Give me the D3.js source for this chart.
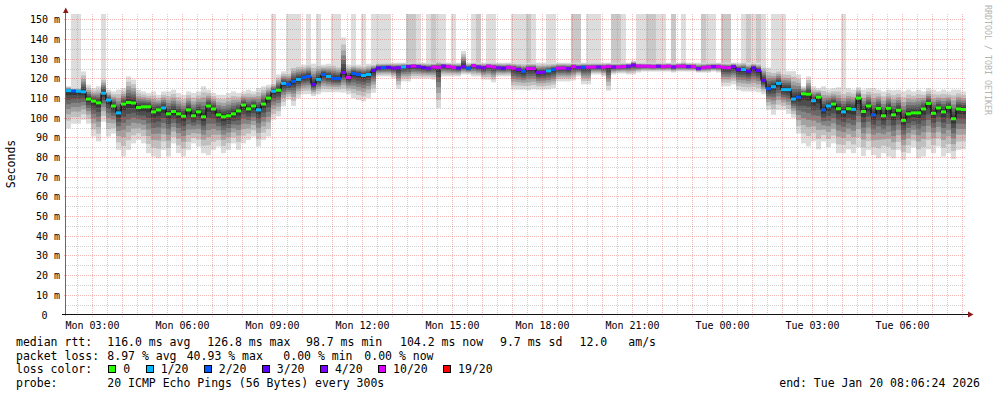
<!DOCTYPE html>
<html><head><meta charset="utf-8">
<script src="https://cdn.jsdelivr.net/npm/d3@7"></script>
<style>
body{margin:0;background:#fff}
svg{display:block}
text{font-family:"DejaVu Sans Mono",monospace;fill:#000}
</style>
</head><body><svg id="c" width="997" height="397"></svg>
<script>
// ---- data (10-minute columns, 30 h ending Tue Jan 20 08:06:24 2026) ----
const med=[113.8,113.6,113.5,113.2,109.5,108.5,107.6,112.5,109,106,
102.5,107,107.8,107.5,105.2,105.6,105.6,103,104,105,
102,103.2,102,100.8,104,101,103,100.5,106,104.5,
101.5,100.5,101,102,103.5,106.5,104.5,106,104,107,
110,113.5,114,117.5,117,
118.5,119.5,120.5,121,117,119.5,122,121,120,120,
123,120.5,122.5,122,121.5,122,124,
125.3,125.5,125.6,125.2,125.4,125.8,126,126.3,126,125.5,
125.2,125.8,125.6,126.3,126,125.6,125.3,126,125.2,126.5,
125.8,125.4,126.2,125.8,125.4,125.2,125.6,125.2,124.5,
123.6,125,125,123,123.2,123.8,124.5,125.2,125.3,125,
126,125.5,125.7,125.7,125.8,125.8,125.7,126,125.8,125.8,
126,126.2,126.8,126.3,126.2,126.2,126,126.2,126,126.2,
125.8,126.2,126.2,126,126,125,125.5,125.8,126,126,
125.6,125.4,126,124.5,
124.5,123.6,125.3,124,119,114.8,115.8,117.5,114.3,114.3,
109.5,110.5,112.2,112,108.7,110.5,104,106,107,104.6,
103,104.6,104.3,110,103.2,106,101.5,104.8,101,104.8,
101.5,103.8,98.7,102,102.5,102.5,104.5,107.3,102.3,105,
103,105.3,99.5,104.5,104.2];
const loss=[1,2,1,1,0,0,0,1,1,0, 1,0,0,0,0,0,0,0,0,1, 0,0,0,0,0,0,0,0,0,0, 0,0,0,0,0,0,0,0,1,0, 0,1,0,1,2,
2,1,2,2,3,1,2,1,2,2,4,5,2,2,1,1,3,
3,2,3,4,4,1,4,5,4,3, 4,5,5,4,5,5,3,4,2,5, 4,4,5,5,4,3,5,5,4,
2,5,5,4,4,1,2,5,5,4, 5,4,2,5,5,4,5,5,4,5, 5,4,4,5,5,5,5,4,5,5, 4,5,5,4,5,4,5,5,4,5, 5,5,4,3,
1,3,3,3,3,2,1,1,1,1, 1,2,0,0,1,0,2,1,0,0, 1,0,1,0,0,0,2,0,0,0, 0,0,0,0,0,0,0,0,0,0, 0,0,0,0,0];
const lo=[94.7,97,97,99,97,90.5,88,98,90.5,92, 83.7,80.3,83.7,87,88.8,87,82,80.3,79.4,83.7,
80.3,87,82,80.3,83.7,87,85.4,82,81,83.7, 85.4,82,83.7,87,83.7,87,88.8,90.5,85.4,88.8,
90.5,99,100.7,105.8,109.2,
106,110,112,112,111,112,113,113,113,113,112.8,112,110,109,108.3,110,112.7,
121,121,121,120.2,114.6,118.5,118.5,120,120,120, 120,119.4,105,121,121,121,121,122,122,121,
121,119.4,119.4,118,121,121,121,114.3,114.3,
114.3,114,114.5,114.3,114.3,114.5,115,118.5,118.5,118.5, 119,121,117,117,122,122,121,113.8,122,122.5,
122.5,122,122,123,123.5,123.5,123.5,123.5,123.5,123.5, 123,123.5,123.5,123.5,123.5,123,123,123,123.5,123,
116,116,117,114,
113.4,113.4,113.4,113,112,104,101.5,104,104,102, 100,92,87,85.4,88,84,88,85,87,82,
82,84,82,85,80.5,83.7,81,79.4,82,80.3, 79.4,83.7,78.6,82,85,79.4,80.3,84,82,85.4,
80.3,82,79,83.7,84];
const hi=[116,115,115,123.6,116.8,115.1,116,121,114.3,113.4, 114.3,115.1,121,119.4,114.3,113.4,112.6,113.4,111.7,113.4,
113.4,114.3,112.6,111.7,113.4,112.6,113.4,116,114.3,112.6, 111.7,111.7,112.6,113.4,112.6,113.4,114.3,113.4,115.1,116,
116.8,118,122,123.6,123.6,
127,127.5,127,128,127.5,128,127,127.5,128,127,140.8,127,127.5,127,127,127.5,127.5,
128,128,128,128,128,128,128,128,128,128, 128,128,128.7,128,128,128,128,134,128,128,
128,128,128,128,128,128,128,128,128,
128,128,128,128,128,128,128,128,128,128, 128,128,128,128,128,128,128,128,128,128,
128,128,129,128,128,128,128,128,128,128, 128,128,128.5,128,128,128,128,128,128,128,
128,128,128,128,
128.6,128,128,128,127,125.5,124.5,125,124,123.7, 123.7,122,116,121,116,115,116,114.5,115,115.5,
114.3,115,114.3,115.5,114.3,115,115.1,114.3,113.4,114.3, 114,114.3,113.4,114.3,113.4,114.3,113.4,115,114.3,113.4,
114.3,113.4,114.3,114.3,113.4];
const cap=[0,1,1,0,0,0,0,1,0,0, 0,0,0,0,0,0,0,0,0,0, 0,0,0,0,0,0,0,0,0,0, 0,0,0,0,0,0,0,0,0,0, 0,1,0,0,1,
1,1,0,1,0,1,0,0,1,1,0,0,1,0,1,0,1,
1,1,1,0,0,0,2,2,1,0, 1,2,1,1,0,1,0,0,0,1, 2,0,1,1,0,0,0,1,1,
1,2,1,0,0,1,1,0,0,0, 2,2,0,1,1,1,0,0,2,2, 1,0,0,1,1,2,2,1,1,0, 2,0,1,0,0,0,2,1,1,0, 2,2,0,0,
1,2,1,2,1,0,1,1,1,0, 0,0,0,0,0,0,0,0,0,0, 1,0,0,0,0,0,0,0,0,0, 0,0,0,0,0,0,0,0,0,0, 0,0,0,0,0];

const lossLabels=['0','1/20','2/20','3/20','4/20','10/20','19/20'];
const lossColors=['#26ff00','#00b8ff','#0059ff','#5e00ff','#7e00ff','#dd00ff','#ff0000'];
const yTickValues=[0,10,20,30,40,50,60,70,80,90,100,110,120,130,140,150];
const endLabel='2026-01-20 08:06:24';
const rttStats=[['median rtt:',16],['116.0 ms avg',107.3],['126.8 ms max',207.3],['98.7 ms min',306],['104.2 ms now',400],['9.7 ms sd',500],['12.0',579.5],['am/s',628.3]];
const lossStats=[['packet loss:',16],['8.97 % avg',107.3],['40.93 % max',186.7],['0.00 % min',283.3],['0.00 % now',364.3]];
const probeText='20 ICMP Echo Pings (56 Bytes) every 300s';
const endText='end: Tue Jan 20 08:06:24 2026';

// ---- drawing ----
const svg=d3.select('#c');
const tEnd=d3.utcParse('%Y-%m-%d %H:%M:%S')(endLabel);
const tStart=d3.utcHour.offset(tEnd,-30);
const x=d3.scaleUtc().domain([tStart,tEnd]).range([65.7,965.7]);
const y=d3.scaleLinear().domain([0,152.5]).range([314.5,14.5]);
const TOP=14, L=66, R=966, B=314.5;

const cols=med.map((m,i)=>{
  const x0=Math.round(x(d3.utcMinute.offset(tStart,i*10)));
  const x1=Math.round(x(d3.utcMinute.offset(tStart,(i+1)*10)));
  return {i,m,x0,x1,loss:loss[i],lo:lo[i],hi:hi[i],cap:cap[i]};
});

const g=svg.append('g');
// loss caps
g.selectAll('rect.cap').data(cols.filter(d=>d.cap>0)).join('rect')
  .attr('x',d=>d.x0).attr('width',d=>d.x1-d.x0)
  .attr('y',TOP).attr('height',d=>y(d.m)-TOP)
  .attr('fill',d=>d.cap===1?'#dddddd':'#c8c8c8');
// smoke bands
const fracs=[1,0.8,0.63,0.49,0.36,0.24,0.12];
const shades=['#dcdcdc','#c0c0c0','#a2a2a2','#848484','#686868','#4e4e4e','#363636'];
fracs.forEach((f,k)=>{
  g.append('g').selectAll('rect').data(cols).join('rect')
    .attr('x',d=>d.x0).attr('width',d=>d.x1-d.x0)
    .attr('y',d=>y(d.m+f*(d.hi-d.m)))
    .attr('height',d=>y(d.m-f*(d.m-d.lo))-y(d.m+f*(d.hi-d.m)))
    .attr('fill',shades[k]);
});

// grid
const grid=svg.append('g');
const minorC='rgba(140,140,140,0.4)', majorC='rgba(225,80,80,0.4)';
d3.range(5,151,10).forEach(v=>{
  grid.append('line').attr('x1',L).attr('x2',R).attr('y1',Math.round(y(v))+0.5).attr('y2',Math.round(y(v))+0.5)
    .attr('stroke',minorC).attr('stroke-dasharray','1,1');
});
yTickValues.filter(v=>v>0).forEach(v=>{
  grid.append('line').attr('x1',64).attr('x2',R).attr('y1',Math.round(y(v))+0.5).attr('y2',Math.round(y(v))+0.5)
    .attr('stroke',majorC).attr('stroke-dasharray','1,1');
});
d3.utcMinute.every(30).range(tStart,tEnd).forEach(t=>{
  const major=t.getUTCMinutes()===0;
  const xx=Math.floor(x(t))+0.5;
  grid.append('line').attr('x1',xx).attr('x2',xx).attr('y1',TOP).attr('y2',major?B+3:B+2)
    .attr('stroke',major?majorC:minorC).attr('stroke-dasharray','1,1');
});

// median line
const pts=cols.map(d=>[d.x0,y(d.m)]);
pts.push([cols[cols.length-1].x1,y(cols[cols.length-1].m)]);
svg.append('path').attr('d',d3.line().curve(d3.curveStepAfter)(pts))
  .attr('fill','none').attr('stroke','#000').attr('stroke-width',1);
svg.append('g').selectAll('rect').data(cols).join('rect')
  .attr('x',d=>d.x0).attr('width',d=>d.x1-d.x0)
  .attr('y',d=>y(d.m)-1.5).attr('height',3)
  .attr('fill',d=>lossColors[d.loss]);

// axes
svg.append('line').attr('x1',65.5).attr('x2',65.5).attr('y1',B+1).attr('y2',11).attr('stroke','#6a6a6a');
svg.append('line').attr('x1',62).attr('x2',969).attr('y1',B).attr('y2',B).attr('stroke','#111');
svg.append('path').attr('d','M63,13L68.5,13L65.75,7.5Z').attr('fill','#8b1a1a');
svg.append('path').attr('d','M968,311.5L968,317.5L973.5,314.5Z').attr('fill','#8b1a1a');

// y labels
svg.append('g').selectAll('text').data(yTickValues).join('text')
  .attr('x',d=>d===0?47.5:60).attr('y',d=>y(d)+4)
  .attr('text-anchor','end').attr('font-size','10px')
  .text(d=>d===0?'0':d+' m');
// x labels
const fmt=d3.utcFormat('%a %H:%M');
svg.append('g').selectAll('text').data(d3.utcHour.every(3).range(tStart,tEnd)).join('text')
  .attr('x',d=>x(d)).attr('y',329).attr('text-anchor','middle').attr('font-size','10px')
  .text(d=>fmt(d));

// axis title and watermark
svg.append('text').attr('transform','translate(15,164) rotate(-90)').attr('text-anchor','middle')
  .attr('font-size','11.5px').text('Seconds');
svg.append('text').attr('transform','translate(985,5) rotate(90)').attr('font-size','8.3px')
  .style('fill','#b4b4b4').text('RRDTOOL / TOBI OETIKER');

// legend
const fs='11.5px';
const rows=[345.8,359.5,373.2,386.9];
rttStats.forEach(([t,xx])=>svg.append('text').attr('x',xx).attr('y',rows[0]).attr('font-size',fs).text(t));
lossStats.forEach(([t,xx])=>svg.append('text').attr('x',xx).attr('y',rows[1]).attr('font-size',fs).text(t));
svg.append('text').attr('x',16).attr('y',rows[2]).attr('font-size',fs).text('loss color:');
let bx=108.3;
lossLabels.forEach((lab,k)=>{
  svg.append('rect').attr('x',Math.round(bx)+0.5).attr('y',365.5).attr('width',7).attr('height',7)
    .attr('fill',lossColors[k]).attr('stroke','#000');
  const tt=svg.append('text').attr('x',bx+15).attr('y',rows[2]).attr('font-size',fs).text(lab);
  bx=bx+15+tt.node().getComputedTextLength()+15.4;
});
svg.append('text').attr('x',16).attr('y',rows[3]).attr('font-size',fs).text('probe:');
svg.append('text').attr('x',107.3).attr('y',rows[3]).attr('font-size',fs).text(probeText);
svg.append('text').attr('x',980).attr('y',rows[3]).attr('text-anchor','end').attr('font-size',fs).text(endText);
</script>
</body></html>
